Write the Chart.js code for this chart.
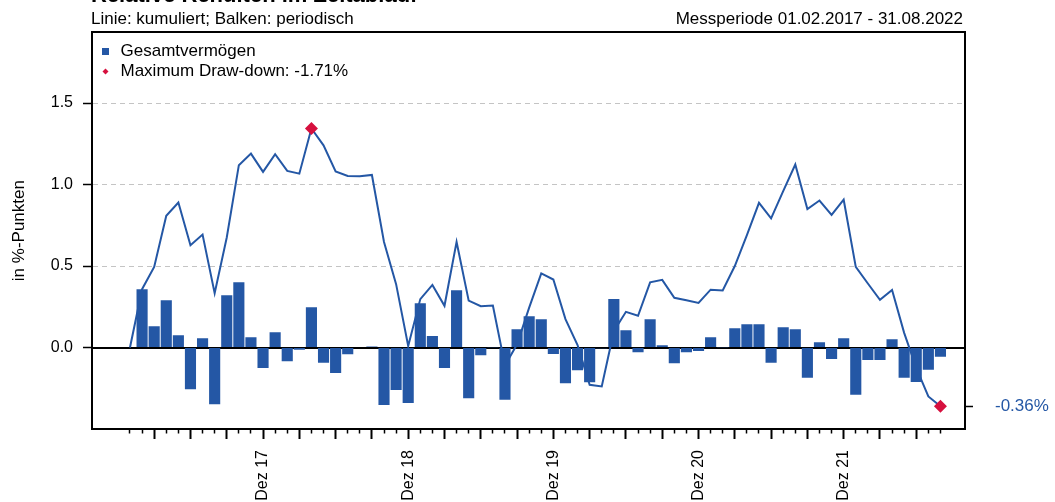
<!DOCTYPE html>
<html>
<head>
<meta charset="utf-8">
<script src="https://cdn.jsdelivr.net/npm/chart.js@4/dist/chart.umd.min.js"></script>
<style>
  html, body { margin: 0; padding: 0; background: #fff; }
  #wrap { width: 1055px; height: 502px; }
</style>
</head>
<body>
<div id="wrap"><canvas id="c" width="1055" height="502" style="width:1055px;height:502px"></canvas></div>
<script>
// ---------- data ----------
const titleText = 'Relative Renditen im Zeitablauf';
const subtitleLeft = 'Linie: kumuliert; Balken: periodisch';
const subtitleRight = 'Messperiode 01.02.2017 - 31.08.2022';
const yTitle = 'in %-Punkten';
const seriesName = 'Gesamtvermögen';
const drawdownName = 'Maximum Draw-down';
const maxDrawdown = -1.71;

const monthNames = ['Jan','Feb','Mär','Apr','Mai','Jun','Jul','Aug','Sep','Okt','Nov','Dez'];
const majorMonths = ['Mär','Jun','Sep','Dez'];
const tickLabels = ['Dez 17','Dez 18','Dez 19','Dez 20','Dez 21'];
const yTicks = [0, 0.5, 1.0, 1.5];

// monthly relative returns (bars), Jan 17 .. Aug 22
const barVals = [
  null, 0.358, 0.131, 0.290, 0.076, -0.256, 0.057, -0.348, 0.321, 0.401, 0.063, -0.125,
  0.094, -0.084, -0.014, 0.247, -0.094, -0.157, -0.041, 0.000, 0.006, -0.352, -0.260, -0.340,
  0.272, 0.070, -0.125, 0.352, -0.311, -0.047, 0.002, -0.321, 0.112, 0.192, 0.174, -0.039,
  -0.219, -0.139, -0.213, -0.005, 0.297, 0.106, -0.029, 0.174, 0.014, -0.096, -0.029, -0.022,
  0.063, 0.002, 0.119, 0.143, 0.143, -0.094, 0.125, 0.112, -0.186, 0.033, -0.070, 0.057,
  -0.290, -0.076, -0.076, 0.051, -0.186, -0.211, -0.137, -0.057
];
// cumulative relative return (line)
const lineVals = [
  0, 0.358, 0.495, 0.808, 0.890, 0.628, 0.693, 0.333, 0.675, 1.119, 1.190, 1.078,
  1.186, 1.084, 1.067, 1.344, 1.241, 1.080, 1.053, 1.051, 1.059, 0.648, 0.389, 0.010,
  0.297, 0.384, 0.256, 0.648, 0.288, 0.254, 0.258, -0.110, 0.020, 0.245, 0.455, 0.417,
  0.174, 0.015, -0.229, -0.239, 0.100, 0.219, 0.195, 0.400, 0.415, 0.305, 0.290, 0.274,
  0.355, 0.350, 0.500, 0.690, 0.888, 0.793, 0.960, 1.123, 0.850, 0.902, 0.814, 0.907,
  0.495, 0.393, 0.293, 0.353, 0.090, -0.125, -0.300, -0.360
];

// ---------- derived ----------
const months = [];
for (let y = 2017; y <= 2022; y++) {
  for (let m = 0; m < 12; m++) {
    if (y === 2022 && m > 7) break;
    months.push(monthNames[m] + ' ' + String(y).slice(2));
  }
}
const barData = [];
barVals.forEach((v, i) => { if (v !== null) barData.push({x: i, y: v}); });
const lineData = lineVals.map((v, i) => ({x: i, y: v}));
let maxIdx = 0;
lineVals.forEach((v, i) => { if (v > lineVals[maxIdx]) maxIdx = i; });
const lastIdx = lineVals.length - 1;
const markerData = [{x: maxIdx, y: lineVals[maxIdx]}, {x: lastIdx, y: lineVals[lastIdx]}];
const endLabel = lineVals[lastIdx].toFixed(2) + '%';

// ---------- style ----------
const BLUE = '#2457A5';
const RED = '#D6103E';
const FONT = '"Liberation Sans", Arial, Helvetica, sans-serif';

function makeSquare() {
  const c = document.createElement('canvas');
  c.width = 11; c.height = 7;
  const g = c.getContext('2d');
  g.fillStyle = BLUE; g.fillRect(4, 0, 7, 7);
  return c;
}
function makeDiamond() {
  const c = document.createElement('canvas');
  c.width = 11; c.height = 7;
  const g = c.getContext('2d');
  g.fillStyle = RED;
  g.beginPath(); g.moveTo(7.5, 0.5); g.lineTo(10.5, 3.5); g.lineTo(7.5, 6.5); g.lineTo(4.5, 3.5); g.closePath(); g.fill();
  return c;
}

const headerPlugin = {
  id: 'header',
  afterDraw(chart) {
    const ctx = chart.ctx, ca = chart.chartArea;
    ctx.save();
    ctx.fillStyle = '#000';
    ctx.textBaseline = 'alphabetic';
    ctx.textAlign = 'left';
    ctx.font = 'bold 22px ' + FONT;
    ctx.fillText(titleText, ca.left - 1, 2);
    ctx.font = '17px ' + FONT;
    ctx.fillText(subtitleLeft, ca.left - 1, 24);
    ctx.textAlign = 'right';
    ctx.fillText(subtitleRight, ca.right - 2, 24);
    ctx.restore();
  }
};

const xMin = -3.14, xMax = 69.03;

new Chart(document.getElementById('c'), {
  data: {
    datasets: [
      { type: 'bar', label: seriesName, data: barData, backgroundColor: BLUE, borderWidth: 0,
        barPercentage: 0.92, categoryPercentage: 1, order: 1 },
      { type: 'line', label: seriesName + ' kumuliert', data: lineData, borderColor: BLUE, borderWidth: 2,
        pointRadius: 0, tension: 0, fill: false, order: 2 },
      { type: 'line', label: drawdownName, data: markerData, showLine: false, pointStyle: 'rectRot',
        pointRadius: 6.5, pointBackgroundColor: RED, pointBorderWidth: 0, borderColor: RED, order: 0 }
    ]
  },
  options: {
    responsive: false,
    animation: false,
    devicePixelRatio: 1,
    layout: { padding: { top: 32, left: 0, right: 0, bottom: 0 } },
    plugins: {
      tooltip: { enabled: false },
      legend: {
        position: 'chartArea',
        align: 'start',
        title: { display: true, text: ' ', font: { size: 5, lineHeight: 1 }, padding: { top: 35, bottom: 0 } },
        labels: {
          usePointStyle: true,
          pointStyleWidth: 17,
          padding: 3,
          color: '#000',
          font: { family: FONT, size: 17 },
          generateLabels: () => [
            { text: seriesName, pointStyle: makeSquare(), fillStyle: BLUE, strokeStyle: BLUE, fontColor: '#000', lineWidth: 0, hidden: false, datasetIndex: 0 },
            { text: drawdownName + ': ' + maxDrawdown.toFixed(2) + '%', pointStyle: makeDiamond(), fillStyle: RED, strokeStyle: RED, fontColor: '#000', lineWidth: 0, hidden: false, datasetIndex: 2 }
          ]
        }
      }
    },
    scales: {
      x: {
        type: 'linear', position: 'bottom', min: xMin, max: xMax, offset: false,
        afterBuildTicks: (s) => { s.ticks = months.map((m, i) => ({ value: i })); },
        afterFit: (s) => { s.height = 73; },
        ticks: {
          autoSkip: false, minRotation: 90, maxRotation: 90, padding: 11,
          color: '#000', font: { family: FONT, size: 16 },
          callback: (v) => tickLabels.includes(months[v]) ? months[v] : ''
        },
        grid: {
          offset: false,
          drawOnChartArea: false, drawTicks: true, tickLength: 10, tickColor: '#000',
          tickWidth: (c) => majorMonths.includes((months[c.tick && c.tick.value] || '').slice(0, 3)) ? 2 : 1.5,
          tickBorderDash: (c) => majorMonths.includes((months[c.tick && c.tick.value] || '').slice(0, 3)) ? [] : [3.5, 100]
        },
        border: { display: true, color: '#000', width: 2 }
      },
      xTop: {
        type: 'linear', axis: 'x', position: 'top', min: xMin, max: xMax, offset: false,
        afterFit: (s) => { s.height = 0; },
        ticks: { display: false },
        grid: { drawOnChartArea: false, drawTicks: false },
        border: { display: true, color: '#000', width: 2 }
      },
      zero: {
        type: 'linear', axis: 'x', position: { y: 0 }, min: xMin, max: xMax, z: 1, offset: false,
        afterFit: (s) => { s.height = 0; },
        ticks: { display: false },
        grid: { display: false, drawTicks: false },
        border: { display: true, color: '#000', width: 2 }
      },
      y: {
        type: 'linear', position: 'left', min: -0.5, max: 1.935,
        afterBuildTicks: (s) => { s.ticks = yTicks.map(v => ({ value: v })); },
        afterFit: (s) => { s.width = 92; },
        ticks: { color: '#000', padding: 10, font: { family: FONT, size: 16 }, callback: (v) => Number(v).toFixed(1) },
        grid: { color: '#C4C4C4', lineWidth: 1, tickColor: '#000', tickLength: 9, tickWidth: 1.5 },
        border: { display: true, color: '#000', width: 2, dash: [5, 4] },
        title: { display: true, text: yTitle, color: '#000', font: { family: FONT, size: 17 }, padding: { top: 9, bottom: 0 } }
      },
      yRight: {
        type: 'linear', axis: 'y', position: 'right', min: -0.5, max: 1.935,
        afterBuildTicks: (s) => { s.ticks = [{ value: lineVals[lastIdx] }]; },
        afterFit: (s) => { s.width = 90; },
        ticks: { color: BLUE, padding: 22, font: { family: FONT, size: 17 }, callback: () => endLabel },
        grid: { drawOnChartArea: false, tickColor: '#000', tickLength: 8, tickWidth: 1.5 },
        border: { display: true, color: '#000', width: 2 }
      }
    }
  },
  plugins: [headerPlugin]
});
</script>
</body>
</html>
